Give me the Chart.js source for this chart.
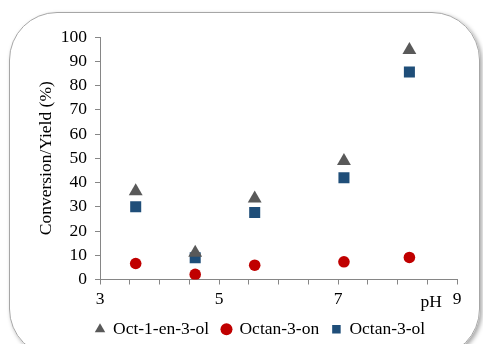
<!DOCTYPE html>
<html>
<head>
<meta charset="utf-8">
<script src="https://cdn.jsdelivr.net/npm/chart.js@4"></script>
<style>
  html, body { margin: 0; padding: 0; background: #fff; }
  #wrap { position: relative; width: 483px; height: 344px; overflow: hidden; }
  #frame {
    position: absolute; left: 9px; top: 12px; width: 471px; height: 345px;
    border: 1.5px solid #a6a6a6; border-radius: 48px;
    box-shadow: 2px 2px 4px rgba(0, 0, 0, 0.35);
    box-sizing: border-box;
  }
  #chart { position: absolute; left: 0; top: 0; }
</style>
</head>
<body>
<div id="wrap">
  <div id="frame"></div>
  <canvas id="chart" width="485" height="344"></canvas>
</div>
<script>
// ---------------------- DATOS ----------------------
const seriesNames = ["Oct-1-en-3-ol", "Octan-3-on", "Octan-3-ol"];
const phValues = [3.6, 4.6, 5.6, 7.1, 8.2];
const octenol = [36.4, 11.0, 33.4, 48.9, 94.6];
const octanone = [6.6, 2.1, 5.9, 7.3, 9.1];
const octanol = [30.0, 9.0, 27.6, 42.0, 85.6];
const xTickLabels = [3, 5, 7, 9];

const serif = "'Liberation Serif', 'Times New Roman', serif";
const fontSize = 17.5;
const axisGray = "#868686";

Chart.defaults.font.family = serif;
Chart.defaults.font.size = fontSize;
Chart.defaults.color = "#000";

const toPoints = (ys) => phValues.map((x, i) => ({ x: x, y: ys[i] }));

// ---- texto "pH" al final del eje x ----
const phLabel = {
  id: "phLabel",
  afterDraw(chart) {
    const xs = chart.scales.x;
    const ctx = chart.ctx;
    ctx.save();
    ctx.font = fontSize + "px " + serif;
    ctx.fillStyle = "#000";
    ctx.textAlign = "right";
    ctx.textBaseline = "middle";
    ctx.fillText("pH", xs.right - 15, xs.top + 23);
    ctx.restore();
  },
};

new Chart(document.getElementById("chart"), {
  type: "scatter",
  data: {
    datasets: [
      {
        label: seriesNames[0],
        data: toPoints(octenol),
        pointStyle: "triangle",
        pointRadius: 8,
        backgroundColor: "#595959",
        borderColor: "#595959",
        borderWidth: 0,
      },
      {
        label: seriesNames[1],
        data: toPoints(octanone),
        pointStyle: "circle",
        pointRadius: 5.8,
        backgroundColor: "#c00000",
        borderColor: "#c00000",
        borderWidth: 0,
      },
      {
        label: seriesNames[2],
        data: toPoints(octanol),
        pointStyle: "rect",
        pointRadius: 7.8,
        backgroundColor: "#1f4e79",
        borderColor: "#1f4e79",
        borderWidth: 0,
      },
    ],
  },
  options: {
    responsive: false,
    animation: false,
    layout: { padding: { left: 36, right: 0, top: 37, bottom: -4 } },
    plugins: {
      tooltip: { enabled: false },
      legend: {
        position: "bottom",
        labels: {
          usePointStyle: true,
          boxWidth: 8.5,
          boxHeight: 8.5,
          padding: 13,
          color: "#000",
          font: { family: serif, size: fontSize },
        },
      },
    },
    scales: {
      x: {
        type: "linear",
        min: 3,
        max: 9,
        afterFit: (s) => { s.height = 28; },
        afterBuildTicks: (s) => {
          const t = [];
          for (let v = 3; v <= 9.001; v += 0.5) t.push({ value: v });
          s.ticks = t;
        },
        ticks: {
          autoSkip: false,
          maxRotation: 0,
          padding: 4,
          color: "#000",
          font: { family: serif, size: fontSize },
          callback: (v) => (xTickLabels.includes(v) ? v : ""),
        },
        grid: { drawOnChartArea: false, tickLength: 5, color: axisGray },
        border: { color: axisGray, width: 1 },
      },
      y: {
        min: 0,
        max: 100,
        afterFit: (s) => { s.width = 64; },
        ticks: {
          stepSize: 10,
          padding: 8,
          color: "#000",
          font: { family: serif, size: fontSize },
        },
        title: {
          display: true,
          text: "Conversion/Yield (%)",
          color: "#000",
          padding: 0,
          font: { family: serif, size: fontSize },
        },
        grid: { drawOnChartArea: false, tickLength: 5, color: axisGray },
        border: { color: axisGray, width: 1 },
      },
      // eje vacío a la derecha: solo reserva el margen derecho
      yRight: {
        position: "right",
        display: true,
        afterFit: (s) => { s.width = 28; },
        ticks: { display: false },
        grid: { display: false },
        border: { display: false },
      },
    },
  },
  plugins: [phLabel],
});
</script>
</body>
</html>
